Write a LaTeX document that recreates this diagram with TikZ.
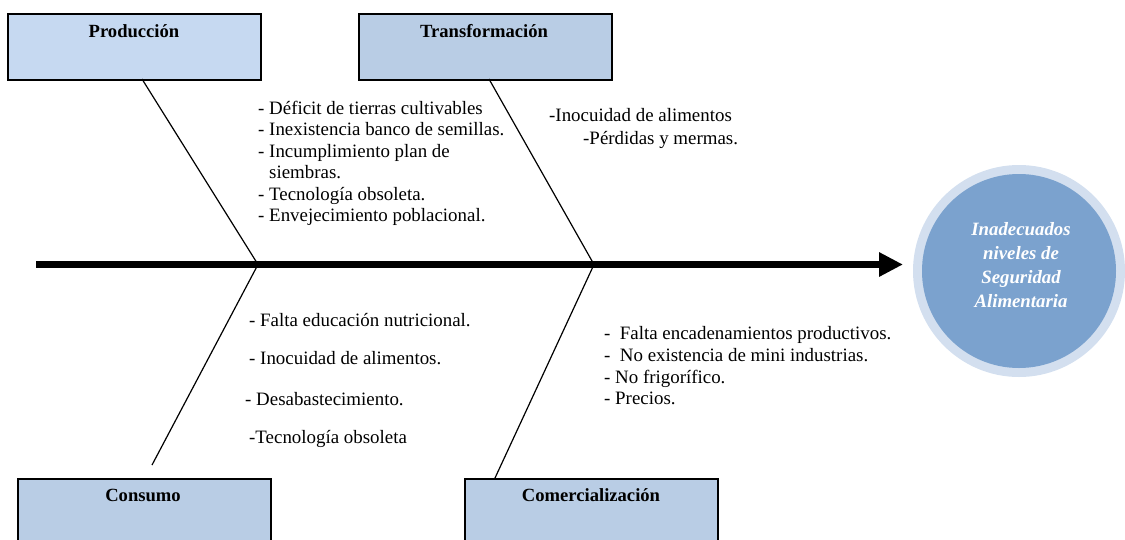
\documentclass[tikz,border=0pt]{standalone}
\usepackage{fontspec}
\setmainfont{Liberation Serif}
\usetikzlibrary{arrows.meta}
\definecolor{boxA}{HTML}{C6D9F1}
\definecolor{boxB}{HTML}{B9CDE5}
\definecolor{ringC}{HTML}{D3DFEF}
\definecolor{coreC}{HTML}{7BA2CE}
\tikzset{
  catbox/.style={draw=black, line width=1.5pt, minimum width=253pt, minimum height=66pt, inner sep=0pt, anchor=north west},
  cattitle/.style={font=\fontsize{18.6}{21}\selectfont\bfseries, anchor=base},
  item/.style={font=\fontsize{18.9}{21.3}\selectfont, anchor=base west, inner sep=0pt},
  bone/.style={line width=1.2pt, draw=black},
}
\begin{document}
\begin{tikzpicture}[x=1pt,y=-1pt]
\useasboundingbox (0,0) rectangle (1125,539);
% boxes
\node[catbox, fill=boxA] (prod) at (7,13) {};
\node[catbox, fill=boxB] (trans) at (358,13) {};
\node[catbox, fill=boxB, minimum height=70pt] (cons) at (17,478) {};
\node[catbox, fill=boxB, minimum height=70pt] (comer) at (464,478) {};
\node[cattitle] (prodT) at (134,37) {Producción};
\node[cattitle] (transT) at (484,37) {Transformación};
\node[cattitle] (consT) at (143,501) {Consumo};
\node[cattitle] (comerT) at (591,501) {Comercialización};
% spine
\coordinate (s0) at (36,264.5);
\coordinate (s1) at (903,264.5);
\coordinate (j1) at (258,264.5);
\coordinate (j2) at (594,264.5);
\draw[line width=7pt, -{Triangle[length=24pt,width=23pt]}] (s0) -- (s1);
% bones
\coordinate (pb) at (142,79);
\coordinate (tb) at (489,79);
\coordinate (cb) at (152,465);
\coordinate (mb) at (495,478);
\draw[bone] (pb) -- (j1);
\draw[bone] (tb) -- (j2);
\draw[bone] (j1) -- (cb);
\draw[bone] (j2) -- (mb);
% effect
\node[circle, fill=ringC, minimum size=212pt, inner sep=0pt] (ring) at (1019,271) {};
\node[circle, fill=coreC, minimum size=194pt, inner sep=0pt] (core) at (ring.center) {};
\node[text=white, align=center, font=\fontsize{18.8}{24}\selectfont\bfseries\itshape] (eff) at (1021,265) {Inadecuados\\niveles de\\Seguridad\\Alimentaria};
% texts
\node[item] (p1) at (258,114) {- Déficit de tierras cultivables};
\node[item] (p2) at (258,135.5) {- Inexistencia banco de semillas.};
\node[item] (p3) at (258,157) {- Incumplimiento plan de};
\node[item] (p4) at (258,178.5) {\phantom{-} siembras.};
\node[item] (p5) at (258,200) {- Tecnología obsoleta.};
\node[item] (p6) at (258,221.5) {- Envejecimiento poblacional.};
\node[item] (t1) at (549,121) {-Inocuidad de alimentos};
\node[item] (t2) at (583,144) {-Pérdidas y mermas.};
\node[item] (c1) at (249,326) {- Falta educación nutricional.};
\node[item] (c2) at (249,364) {- Inocuidad de alimentos.};
\node[item] (c3) at (245,405) {- Desabastecimiento.};
\node[item] (c4) at (249,443) {-Tecnología obsoleta};
\node[item] (m1) at (604,339) {-\ \ Falta encadenamientos productivos.};
\node[item] (m2) at (604,361) {-\ \ No existencia de mini industrias.};
\node[item] (m3) at (604,383) {- No frigorífico.};
\node[item] (m4) at (604,404) {- Precios.};
\end{tikzpicture}
\end{document}
